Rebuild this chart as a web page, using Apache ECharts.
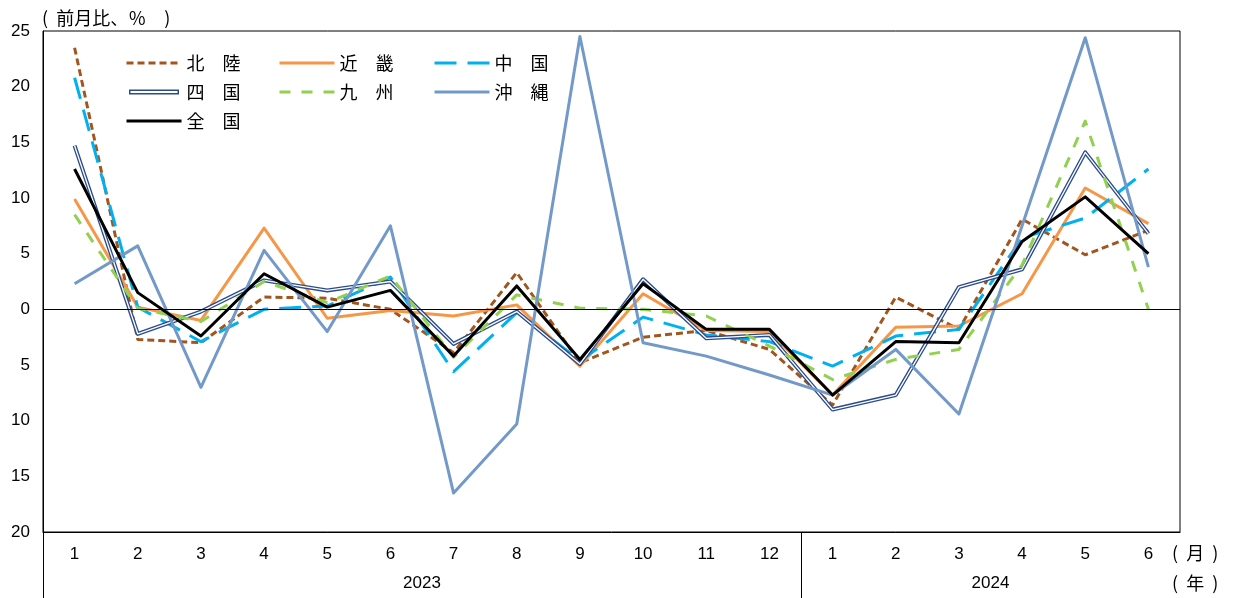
<!DOCTYPE html>
<html>
<head>
<meta charset="utf-8">
<script src="https://cdn.jsdelivr.net/npm/echarts@6/dist/echarts.min.js"></script>
<style>
  html, body { margin: 0; padding: 0; background: #fff; }
  #chart { width: 1233px; height: 598px; }
</style>
</head>
<body>
<div id="chart"></div>
<script>
// Months on the category axis (2023/1 … 2024/6)
const months = ['1','2','3','4','5','6','7','8','9','10','11','12','1','2','3','4','5','6'];
const years = ['2023', '2024'];
const monthsPerYear = [12, 6];

// Month-on-month change, % (by region)
const hokuriku = [23.5, -2.7, -3.0, 1.1, 1.0, 0.0, -3.9, 3.3, -4.8, -2.5, -1.9, -3.6, -8.6, 1.1, -1.8, 8.1, 4.9, 7.1];
const kinki    = [9.9, 0.2, -1.0, 7.3, -0.8, -0.1, -0.6, 0.4, -5.1, 1.4, -1.9, -2.0, -7.7, -1.6, -1.5, 1.4, 10.9, 7.7];
const chugoku  = [20.8, 0.2, -2.9, 0.0, 0.3, 2.9, -5.6, -0.3, -4.6, -0.7, -2.3, -2.9, -5.1, -2.4, -1.8, 6.4, 8.2, 12.6];
const shikoku  = [14.7, -2.2, -0.2, 2.6, 1.7, 2.5, -3.1, -0.2, -4.9, 2.7, -2.6, -2.3, -9.0, -7.7, 2.0, 3.6, 14.1, 6.8];
const kyushu   = [8.5, 0.1, -1.1, 2.5, 0.6, 3.0, -4.3, 1.3, 0.1, 0.0, -0.6, -3.3, -6.3, -4.5, -3.6, 4.0, 16.9, 0.0];
const okinawa  = [2.3, 5.7, -7.0, 5.3, -2.0, 7.5, -16.5, -10.3, 24.5, -3.0, -4.2, -5.9, -7.7, -3.6, -9.4, 7.5, 24.4, 3.8];
const national = [12.6, 1.5, -2.4, 3.2, 0.2, 1.7, -4.2, 2.1, -4.5, 2.3, -1.8, -1.8, -7.7, -2.9, -3.0, 6.1, 10.1, 5.0];

const yMin = -20, yMax = 25, yStep = 5;

// Year boundaries and year-label midpoints on a 0..N value scale
const yearStarts = [];
const yearMids = [];
let acc = 0;
monthsPerYear.forEach(n => { yearStarts.push(acc); yearMids.push(acc + n / 2); acc += n; });

const numFont = 'Liberation Sans, Arial, sans-serif';
const cjkFont = 'Noto Sans CJK JP, sans-serif';

function lineSeries(name, data, color, width, type, z) {
  return {
    name: name,
    type: 'line',
    data: data,
    symbol: 'none',
    z: z,
    lineStyle: { color: color, width: width, type: type, join: 'round' },
    itemStyle: { color: color },
    emphasis: { disabled: true },
    animation: false
  };
}

const legendCommon = {
  orient: 'vertical',
  itemWidth: 55,
  itemHeight: 5,
  itemGap: 11,
  padding: 0,
  selectedMode: false,
  itemStyle: { opacity: 0 },
  lineStyle: { width: 3 },
  textStyle: { fontFamily: cjkFont, fontSize: 18, color: '#000' }
};

// double-line swatch for the Shikoku series
const doubleLineIcon = 'path://M0,0 L100,0 L100,10 L0,10 Z M3,3 L3,7 L97,7 L97,3 Z';

const seriesList = [
  lineSeries('北　陸', hokuriku, '#A0561E', 3, [7, 4], 2),
  lineSeries('近　畿', kinki, '#F79646', 3, 'solid', 2),
  lineSeries('中　国', chugoku, '#00B0F0', 3, [22, 11], 2),
  lineSeries('四　国', shikoku, '#2B4C8C', 4, 'solid', 2),
  Object.assign(lineSeries('四国内線', shikoku, '#ffffff', 1.3, 'solid', 2), { silent: true }),
  lineSeries('九　州', kyushu, '#92D050', 3, [11, 11], 2),
  lineSeries('沖　縄', okinawa, '#7399C9', 3, 'solid', 2),
  lineSeries('全　国', national, '#000000', 3, 'solid', 3)
];

// horizontal line at zero
seriesList[0].markLine = {
  silent: true,
  symbol: 'none',
  label: { show: false },
  lineStyle: { color: '#000', width: 1, type: 'solid' },
  emphasis: { disabled: true },
  data: [{ yAxis: 0 }]
};

const chart = echarts.init(document.getElementById('chart'));
chart.setOption({
  animation: false,
  backgroundColor: '#fff',
  grid: {
    left: 43, right: 53, top: 31, bottom: 66,
    show: true, borderColor: '#000', borderWidth: 1
  },
  legend: [
    Object.assign({}, legendCommon, {
      left: 125, top: 54,
      data: ['北　陸', { name: '四　国', icon: doubleLineIcon, itemStyle: { opacity: 1 } }, '全　国']
    }),
    Object.assign({}, legendCommon, { left: 278, top: 54, data: ['近　畿', '九　州'] }),
    Object.assign({}, legendCommon, { left: 433, top: 54, data: ['中　国', '沖　縄'] })
  ],
  xAxis: [
    {
      type: 'category',
      data: months,
      boundaryGap: true,
      position: 'bottom',
      axisLine: { show: true, onZero: false, lineStyle: { color: '#000', width: 1 } },
      axisTick: { show: false },
      axisLabel: { margin: 14, color: '#000', fontSize: 17, fontFamily: numFont },
      splitLine: { show: false }
    },
    {
      type: 'value',
      min: 0,
      max: months.length,
      position: 'bottom',
      offset: 0,
      axisLine: { show: false, onZero: false },
      splitLine: { show: false },
      axisTick: {
        show: true, inside: false, length: 66,
        customValues: yearStarts,
        lineStyle: { color: '#000', width: 1 }
      },
      axisLabel: {
        show: true, margin: 43, color: '#000', fontSize: 17, fontFamily: numFont,
        customValues: yearMids,
        formatter: v => { const i = yearMids.indexOf(v); return i >= 0 ? years[i] : ''; }
      }
    }
  ],
  yAxis: {
    type: 'value',
    min: yMin, max: yMax, interval: yStep,
    name: '(  前月比、％　)',
    nameLocation: 'end',
    nameGap: 13,
    nameTextStyle: { fontFamily: cjkFont, fontSize: 18, color: '#000', align: 'left', verticalAlign: 'middle', padding: [0, 0, 0, -1] },
    axisLine: { show: true, lineStyle: { color: '#000', width: 1 } },
    axisTick: { show: false },
    splitLine: { show: false },
    axisLabel: {
      margin: 13, color: '#000', fontSize: 17, fontFamily: numFont,
      formatter: v => String(Math.abs(v))
    }
  },
  series: seriesList,
  graphic: [
    { type: 'text', x: 1172, y: 553, style: { text: '(  月  )', fontFamily: cjkFont, fontSize: 18, fill: '#000', verticalAlign: 'middle' } },
    { type: 'text', x: 1172, y: 583, style: { text: '(  年  )', fontFamily: cjkFont, fontSize: 18, fill: '#000', verticalAlign: 'middle' } }
  ]
});
</script>
</body>
</html>
